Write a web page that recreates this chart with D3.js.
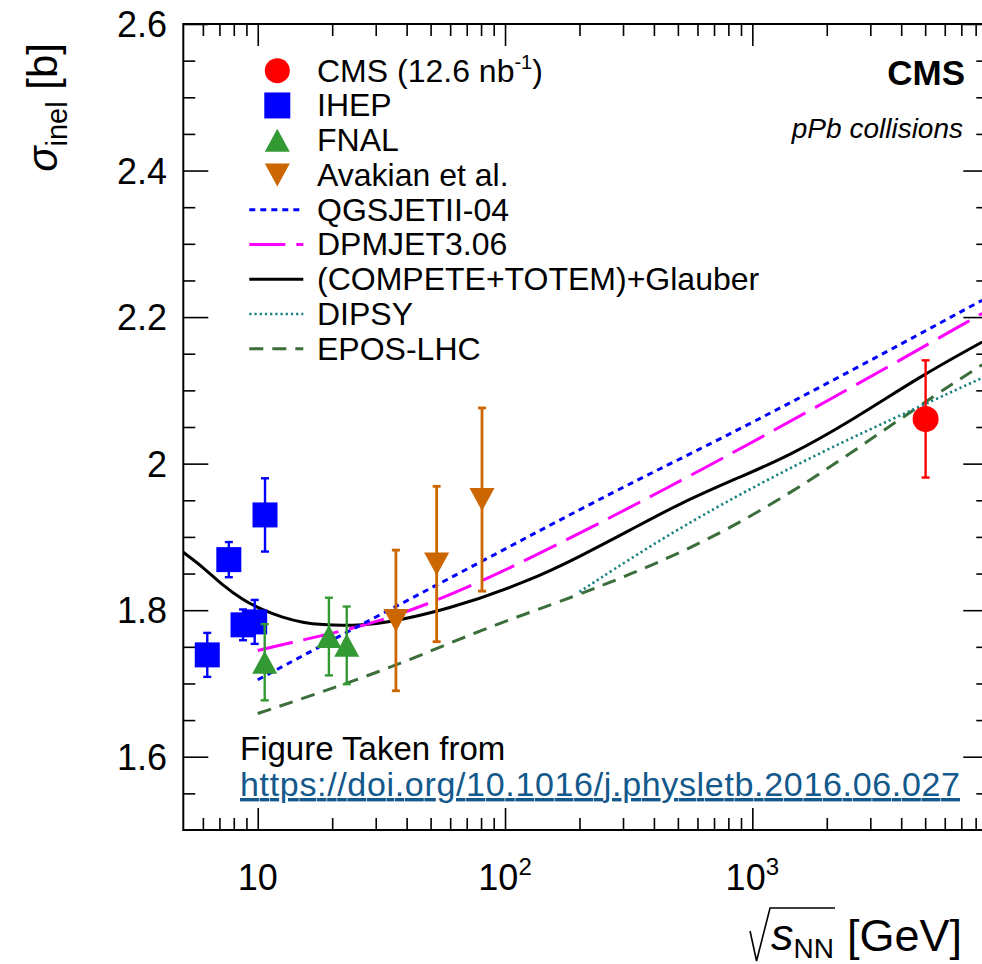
<!DOCTYPE html>
<html>
<head>
<meta charset="utf-8">
<script src="https://cdn.jsdelivr.net/npm/d3@7"></script>
<style>
  body { margin: 0; background: #fff; }
  svg { display: block; font-family: "Liberation Sans", Arial, Helvetica, sans-serif; }
</style>
</head>
<body>
<svg id="chart"></svg>
<script>
// ---- measurements ----
const cmsE = [5020];
const cmsS = [2.061];
const cmsErr = [0.08];

const ihepE = [6.25, 7.64, 8.72, 9.72, 10.7];
const ihepS = [1.739, 1.869, 1.780, 1.784, 1.930];
const ihepErr = [0.030, 0.024, 0.021, 0.030, 0.050];

const fnalE = [10.67, 19.4, 22.9];
const fnalS = [1.729, 1.764, 1.752];
const fnalErr = [0.052, 0.053, 0.053];

const avakE = [36.2, 52.9, 80.7];
const avakS = [1.786, 1.863, 1.951];
const avakErr = [0.096, 0.106, 0.125];

// ---- model curves ----
const qgsE = [10, 22.9, 79, 274, 741, 2560, 8500];
const qgsS = [1.705, 1.770, 1.865, 1.962, 2.033, 2.128, 2.223];

const dpmE = [10, 15, 32, 79, 274, 741, 2560, 8500];
const dpmS = [1.745, 1.759, 1.784, 1.836, 1.928, 2.005, 2.105, 2.205];

const glauberE = [5, 6, 7.2, 8.7, 10.5, 12.6, 15.2, 18.4, 22, 26.6, 32, 58, 126, 200, 320, 510, 893, 1380, 2560, 4760, 8500];
const glauberS = [1.879, 1.859, 1.834, 1.814, 1.800, 1.790, 1.783, 1.780, 1.779, 1.780, 1.782, 1.800, 1.840, 1.873, 1.909, 1.946, 1.982, 2.009, 2.060, 2.119, 2.166];

const dipsyE = [200, 374, 741, 1888, 4760, 8500];
const dipsyS = [1.825, 1.885, 1.944, 2.016, 2.078, 2.117];

const eposE = [10, 32, 79, 200, 320, 510, 893, 1884, 4760, 8500];
const eposS = [1.659, 1.716, 1.773, 1.821, 1.849, 1.878, 1.919, 1.985, 2.080, 2.135];

// ---- axes ----
const xMajor = [10, 100, 1000];
const xMinor = [6, 7, 8, 9, 20, 30, 40, 50, 60, 70, 80, 90, 200, 300, 400, 500, 600, 700, 800, 900,
  2000, 3000, 4000, 5000, 6000, 7000, 8000];
const xLabels = [["10", ""], ["10", "2"], ["10", "3"]];
const yMajor = [1.6, 1.8, 2.0, 2.2, 2.4, 2.6];
const yLabels = ["1.6", "1.8", "2", "2.2", "2.4", "2.6"];
const yMinor = d3.range(31, 52).map(d => d / 20).filter(v => !yMajor.some(m => Math.abs(m - v) < 1e-6));

const legendLabels = ["CMS (12.6 nb", "IHEP", "FNAL", "Avakian et al.", "QGSJETII-04", "DPMJET3.06",
  "(COMPETE+TOTEM)+Glauber", "DIPSY", "EPOS-LHC"];

const width = 982, height = 964;
const pL = 183.3, pR = 988.3, pT = 24, pB = 830;

const svg = d3.select("#chart").attr("width", width).attr("height", height);

const x = d3.scaleLog().domain([5, 9000]).range([pL, pR]);
const y = d3.scaleLinear().domain([1.5, 2.6]).range([pB, pT]);

svg.append("clipPath").attr("id", "plot")
  .append("rect").attr("x", pL).attr("y", pT).attr("width", pR - pL).attr("height", pB - pT);

// frame
svg.append("rect")
  .attr("x", pL).attr("y", pT).attr("width", pR - pL).attr("height", pB - pT)
  .attr("fill", "none").attr("stroke", "#000").attr("stroke-width", 2);

function ticks(axis, tr) {
  svg.append("g").attr("transform", tr).call(axis)
    .call(g => g.select(".domain").remove())
    .call(g => g.selectAll("line").attr("stroke", "#000").attr("stroke-width", 1.6))
    .call(g => g.selectAll("text").remove());
}
ticks(d3.axisBottom(x).tickValues(xMajor).tickSizeInner(-22).tickSizeOuter(0), `translate(0,${pB})`);
ticks(d3.axisBottom(x).tickValues(xMinor).tickSizeInner(-12).tickSizeOuter(0), `translate(0,${pB})`);
ticks(d3.axisTop(x).tickValues(xMajor).tickSizeInner(-22).tickSizeOuter(0), `translate(0,${pT})`);
ticks(d3.axisTop(x).tickValues(xMinor).tickSizeInner(-12).tickSizeOuter(0), `translate(0,${pT})`);
ticks(d3.axisLeft(y).tickValues(yMajor).tickSizeInner(-25).tickSizeOuter(0), `translate(${pL},0)`);
ticks(d3.axisLeft(y).tickValues(yMinor).tickSizeInner(-12).tickSizeOuter(0), `translate(${pL},0)`);
ticks(d3.axisRight(y).tickValues(yMajor).tickSizeInner(-25).tickSizeOuter(0), `translate(${pR},0)`);
ticks(d3.axisRight(y).tickValues(yMinor).tickSizeInner(-12).tickSizeOuter(0), `translate(${pR},0)`);

// y tick labels
svg.append("g").selectAll("text").data(yMajor).join("text")
  .attr("x", 167).attr("y", d => y(d) + 13)
  .attr("text-anchor", "end").attr("font-size", 36).attr("fill", "#000")
  .text((d, i) => yLabels[i]);

// x tick labels
const xl = svg.append("g").selectAll("text").data(xMajor).join("text")
  .attr("x", d => x(d)).attr("y", 890)
  .attr("text-anchor", "middle").attr("font-size", 36).attr("fill", "#000");
xl.append("tspan").text((d, i) => xLabels[i][0]);
xl.append("tspan").attr("font-size", 24).attr("dy", -15).text((d, i) => xLabels[i][1]);

// axis titles
const yt = svg.append("text")
  .attr("transform", "translate(57,43) rotate(-90)")
  .attr("text-anchor", "end").attr("font-size", 42).attr("fill", "#000");
yt.append("tspan").attr("font-style", "italic").text("σ");
yt.append("tspan").attr("font-size", 29).attr("dy", 10).text("inel");
yt.append("tspan").attr("dy", -10).text(" [b]");

svg.append("text").attr("x", 962).attr("y", 951)
  .attr("text-anchor", "end").attr("font-size", 45).attr("fill", "#000").text("[GeV]");
const sn = svg.append("text").attr("x", 834).attr("y", 950)
  .attr("text-anchor", "end").attr("font-size", 45).attr("fill", "#000");
sn.append("tspan").attr("font-style", "italic").text("s");
sn.append("tspan").attr("font-size", 28).attr("dy", 8).text("NN");
const bb = sn.node().getBBox();
svg.append("path")
  .attr("d", `M${bb.x - 21},931 L${bb.x - 14.5},961 L${bb.x - 1},908 L${bb.x + bb.width + 1},908`)
  .attr("fill", "none").attr("stroke", "#000").attr("stroke-width", 1.6);

// ---- curves ----
const line = d3.line().x(d => x(d[0])).y(d => y(d[1])).curve(d3.curveBasis);
const curves = svg.append("g").attr("clip-path", "url(#plot)");
const curveStyles = [
  { e: eposE, s: eposS, color: "#3b6e3b", dash: "14,9", w: 3 },
  { e: dipsyE, s: dipsyS, color: "#168080", dash: "2.2,3", w: 2.6 },
  { e: glauberE, s: glauberS, color: "#000", dash: null, w: 3 },
  { e: dpmE, s: dpmS, color: "#ff00ff", dash: "36,11", w: 3 },
  { e: qgsE, s: qgsS, color: "#0000ff", dash: "6,5", w: 3 }
];
curveStyles.forEach(c => {
  curves.append("path").datum(d3.zip(c.e, c.s))
    .attr("d", line).attr("fill", "none")
    .attr("stroke", c.color).attr("stroke-width", c.w)
    .attr("stroke-dasharray", c.dash);
});

// ---- data points ----
function errorBars(E, S, Err, color, w) {
  const g = svg.append("g").attr("stroke", color).attr("stroke-width", w);
  E.forEach((e, i) => {
    const px = x(e), y1 = y(S[i] + Err[i]), y2 = y(S[i] - Err[i]);
    g.append("line").attr("x1", px).attr("x2", px).attr("y1", y1).attr("y2", y2);
    g.append("line").attr("x1", px - 4).attr("x2", px + 4).attr("y1", y1).attr("y2", y1);
    g.append("line").attr("x1", px - 4).attr("x2", px + 4).attr("y1", y2).attr("y2", y2);
  });
}
const triUp = (cx, cy) => `M${cx - 12.5},${cy + 11.5}L${cx + 12.5},${cy + 11.5}L${cx},${cy - 11.5}Z`;
const triDown = (cx, cy) => `M${cx - 12.5},${cy - 11.5}L${cx + 12.5},${cy - 11.5}L${cx},${cy + 11.5}Z`;

errorBars(ihepE, ihepS, ihepErr, "#0000ff", 2.4);
svg.append("g").selectAll("rect").data(d3.zip(ihepE, ihepS)).join("rect")
  .attr("x", d => x(d[0]) - 12.5).attr("y", d => y(d[1]) - 12.5)
  .attr("width", 25).attr("height", 25).attr("fill", "#0000ff");

errorBars(fnalE, fnalS, fnalErr, "#339933", 2.4);
svg.append("g").selectAll("path").data(d3.zip(fnalE, fnalS)).join("path")
  .attr("d", d => triUp(x(d[0]), y(d[1]))).attr("fill", "#339933");

errorBars(avakE, avakS, avakErr, "#cc6600", 2.8);
svg.append("g").selectAll("path").data(d3.zip(avakE, avakS)).join("path")
  .attr("d", d => triDown(x(d[0]), y(d[1]))).attr("fill", "#cc6600");

errorBars(cmsE, cmsS, cmsErr, "#ff0000", 2.4);
svg.append("g").selectAll("circle").data(d3.zip(cmsE, cmsS)).join("circle")
  .attr("cx", d => x(d[0])).attr("cy", d => y(d[1])).attr("r", 13).attr("fill", "#ff0000");

// ---- legend ----
const lgY = i => 70.7 + i * 34.75;
const mx = 277.3;
const lg = svg.append("g");
lg.append("circle").attr("cx", mx).attr("cy", lgY(0)).attr("r", 12.5).attr("fill", "#ff0000");
lg.append("rect").attr("x", mx - 13).attr("y", lgY(1) - 13).attr("width", 26).attr("height", 26).attr("fill", "#0000ff");
lg.append("path").attr("d", triUp(mx, lgY(2))).attr("fill", "#339933");
lg.append("path").attr("d", triDown(mx, lgY(3))).attr("fill", "#cc6600");
[curveStyles[4], curveStyles[3], curveStyles[2], curveStyles[1], curveStyles[0]].forEach((c, k) => {
  lg.append("line").attr("x1", 249.3).attr("x2", 303.3).attr("y1", lgY(4 + k)).attr("y2", lgY(4 + k))
    .attr("stroke", c.color).attr("stroke-width", c.w).attr("stroke-dasharray", c.dash);
});
const lt = lg.selectAll("text").data(legendLabels).join("text")
  .attr("x", 317).attr("y", (d, i) => lgY(i) + 11)
  .attr("font-size", 32).attr("fill", "#000").text(d => d);
lt.filter((d, i) => i === 0).each(function () {
  const t = d3.select(this);
  t.append("tspan").attr("font-size", 20).attr("dy", -13).text("-1");
  t.append("tspan").attr("dy", 13).text(")");
});

// ---- labels ----
svg.append("text").attr("x", 965).attr("y", 85).attr("text-anchor", "end")
  .attr("font-size", 35).attr("font-weight", "bold").attr("fill", "#000").text("CMS");
svg.append("text").attr("x", 963).attr("y", 138).attr("text-anchor", "end")
  .attr("font-size", 28).attr("font-style", "italic").attr("fill", "#000").text("pPb collisions");

svg.append("text").attr("x", 240).attr("y", 760)
  .attr("font-size", 33).attr("fill", "#000").text("Figure Taken from");
svg.append("text").attr("x", 240).attr("y", 796)
  .attr("font-size", 34).attr("fill", "#14598c").attr("text-decoration", "underline")
  .attr("textLength", 720).attr("lengthAdjust", "spacing")
  .text("https://doi.org/10.1016/j.physletb.2016.06.027");
</script>
</body>
</html>
